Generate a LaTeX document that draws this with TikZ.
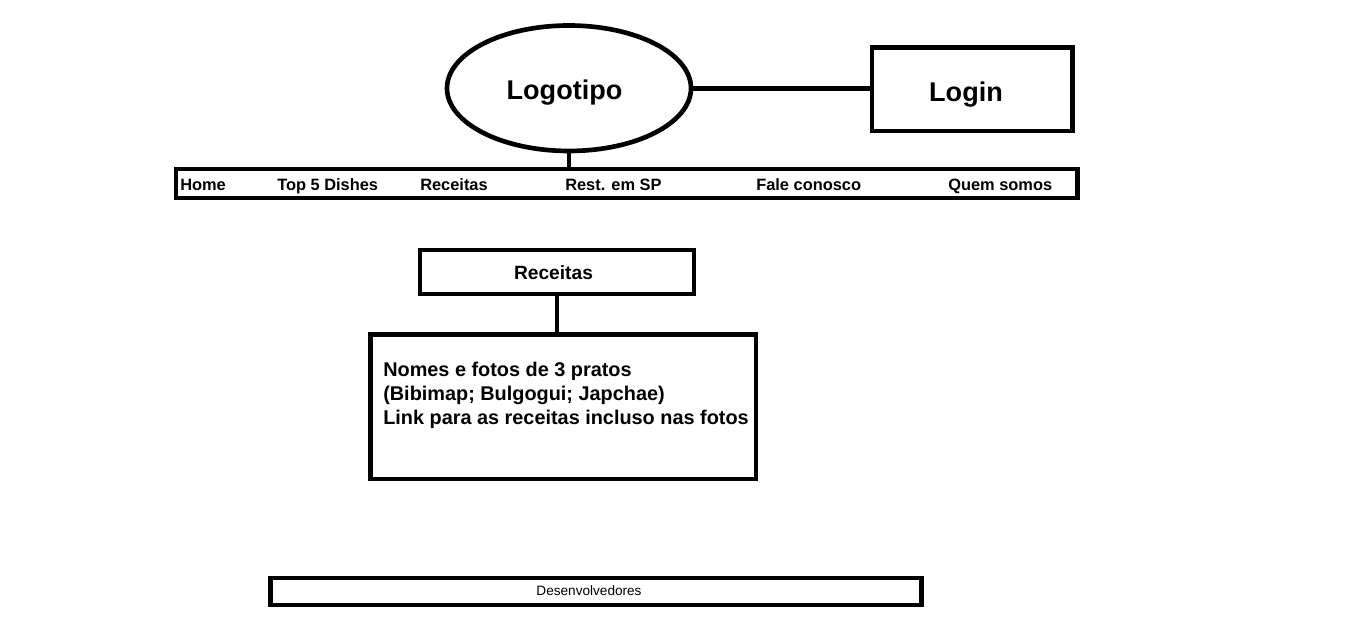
\documentclass[tikz,border=0pt]{standalone}
\usepackage{fontspec}
\setmainfont{Liberation Sans}
\usetikzlibrary{shapes.geometric}
\begin{document}
\begin{tikzpicture}[x=0.75pt,y=-0.75pt,
  shapebox/.style={draw=black,line width=3.5pt,inner sep=0pt,outer sep=0pt,fill=white},
  conn/.style={draw=black,line width=3.5pt},
  navtext/.style={anchor=base west,inner sep=0pt,font=\bfseries\fontsize{12.3}{14}\selectfont},
  bigtext/.style={anchor=base,inner sep=0pt,font=\bfseries\fontsize{20.3}{24}\selectfont},
  bodytext/.style={anchor=base west,inner sep=0pt,font=\bfseries\fontsize{14.9}{18}\selectfont}]
\useasboundingbox[fill=white] (0,0) rectangle (1360,623);
% shapes
\node[shapebox,ellipse,minimum width=183pt,minimum height=94.1pt] (ell) at (569,88.25) {};
\node[shapebox,rectangle,minimum width=150.4pt,minimum height=62.6pt] (login) at (972.25,89.25) {};
\node[shapebox,rectangle,minimum width=676.1pt,minimum height=21.75pt] (nav) at (626.75,183.5) {};
\node[shapebox,rectangle,minimum width=205.5pt,minimum height=33pt] (rec) at (557,272) {};
\node[shapebox,rectangle,minimum width=289.1pt,minimum height=108.4pt] (content) at (563.25,406.75) {};
\node[shapebox,rectangle,minimum width=488.25pt,minimum height=20.25pt] (dev) at (596,591.5) {};
% connectors
\draw[conn] (ell.east) -- (login.west |- ell.east);
\draw[conn] (ell.south) -- (ell.south |- nav.north);
\draw[conn] (rec.south) -- (rec.south |- content.north);
% texts
\node[bigtext] (tlogo) at (564.5,100) {Logotipo};
\node[bigtext] (tlogin) at (966,102) {Login};
\node[navtext] (n1) at (180,191) {Home};
\node[navtext] (n2) at (277,191) {Top 5 Dishes};
\node[navtext] (n3) at (420,191) {Receitas};
\node[navtext] (n4) at (565,191) {Rest. em SP};
\node[navtext] (n5) at (756,191) {Fale conosco};
\node[navtext] (n6) at (948,191) {Quem somos};
\node[anchor=base,inner sep=0pt,font=\bfseries\fontsize{14.4}{17}\selectfont] (trec) at (553.5,280) {Receitas};
\node[bodytext] (l1) at (383,377) {Nomes e fotos de 3 pratos};
\node[bodytext] (l2) at (383,401) {(Bibimap; Bulgogui; Japchae)};
\node[bodytext] (l3) at (383,425) {Link para as receitas incluso nas fotos};
\node[anchor=base,inner sep=0pt,font=\fontsize{10.2}{12}\selectfont] (tdev) at (589,595) {Desenvolvedores};
\end{tikzpicture}
\end{document}
